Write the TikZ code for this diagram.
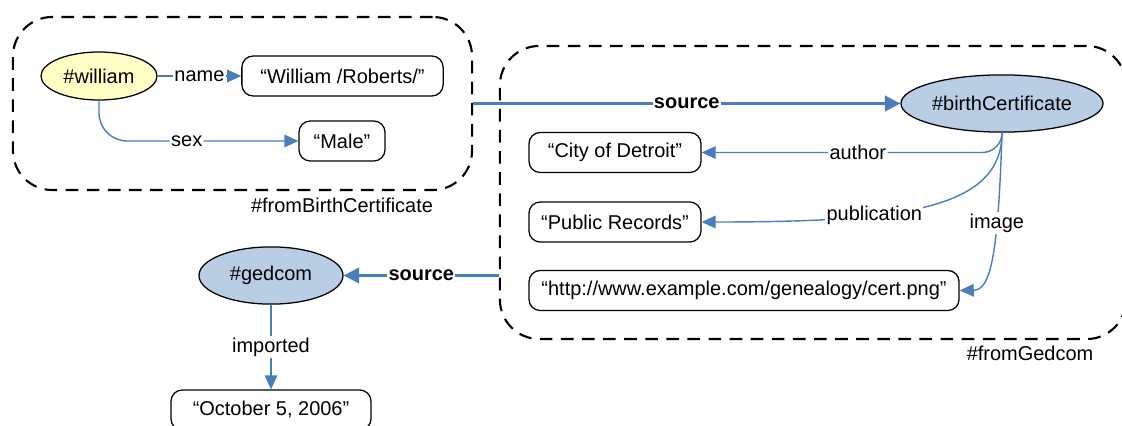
\documentclass[tikz,border=0pt]{standalone}
\usepackage{fontspec}
\setmainfont{Liberation Sans}
\usetikzlibrary{arrows.meta,shapes.geometric}
\definecolor{linkblue}{HTML}{4A7EBB}
\definecolor{resblue}{HTML}{B9CDE5}
\definecolor{resyellow}{HTML}{FFFFC6}
\newcommand\nodefont{\fontsize{14.2}{17}\selectfont}

\begin{document}
\begin{tikzpicture}[x=0.025cm, y=-0.025cm,
    every node/.style={font=\nodefont},
    res/.style={ellipse, draw, line width=0.9pt, fill=resblue, inner sep=0pt,
      minimum height=1.43cm},
    lit/.style={draw, rounded corners=8pt, line width=0.9pt, minimum height=1cm,
      inner sep=0pt},
    group/.style={draw, dash pattern=on 9pt off 6pt, line width=1.5pt,
      rounded corners=28pt, inner sep=0pt},
    prop/.style={draw=linkblue, line width=1pt, -{Triangle[length=10pt,width=9pt]}},
    src/.style={draw=linkblue, line width=1.8pt, -{Triangle[length=11pt,width=11pt]}},
    lbl/.style={fill=white, inner sep=1pt},
    srclbl/.style={lbl, font=\nodefont\bfseries}]
  \useasboundingbox (0,0) rectangle (1122,426);

  \node[group, minimum width=11.475cm, minimum height=4.325cm] (fromBirth) at (242.5,103.5) {};
  \node[group, minimum width=15.65cm, minimum height=7.325cm] (fromGedcom) at (813,192.5) {};
  \node (fromBirthName) at (342,205) {\#fromBirthCertificate};
  \node (fromGedcomName) at (1030,353) {\#fromGedcom};

  \node[res, fill=resyellow, minimum width=2.9cm, minimum height=1.2cm] (william) at (99,76) {\#william};
  \node[lit, minimum width=5.03cm] (fullName) at (342.5,76) {“William /Roberts/”};
  \node[lit, minimum width=2.15cm] (sex) at (342,141) {“Male”};

  \node[res, minimum width=5.05cm] (birthCert) at (1002,103.5) {\#birthCertificate};
  \node[lit, minimum width=4.3cm] (author) at (615,152.5) {“City of Detroit”};
  \node[lit, minimum width=4.3cm] (publication) at (615,222) {“Public Records”};
  \node[lit, minimum width=10.75cm] (image) at (744,290.5) {“http://www.example.com/genealogy/cert.png”};

  \node[res, minimum width=3.6cm] (gedcom) at (271,275.5) {\#gedcom};
  \node[lit, minimum width=5cm] (imported) at (271,410) {“October 5, 2006”};

  \draw[prop] (william) -- node[lbl] (nameLbl) {name} (fullName);
  \draw[prop, rounded corners=20pt] (william.south) |- node[lbl, pos=0.72] (sexLbl) {sex} (sex);
  \draw[src] (fromBirth.east |- birthCert.west) -- node[srclbl] (srcLbl) {source} (birthCert);
  \draw[prop, rounded corners=14pt] (birthCert.south) |- node[lbl, pos=0.74] (authorLbl) {author} (author);
  \draw[prop] (birthCert.south) .. controls (1002,210) and (900,222) ..
    node[lbl, pos=0.65] (publicationLbl) {publication} (publication.east);
  \draw[prop] (birthCert.south) .. controls (998,260) and (990,290) ..
    node[lbl, pos=0.3] (imageLbl) {image} (image.east);
  \draw[src] (fromGedcom.west |- gedcom.east) -- node[srclbl] (gedSrcLbl) {source} (gedcom);
  \draw[prop] (gedcom) -- node[lbl] (importedLbl) {imported} (imported);
\end{tikzpicture}
\end{document}
